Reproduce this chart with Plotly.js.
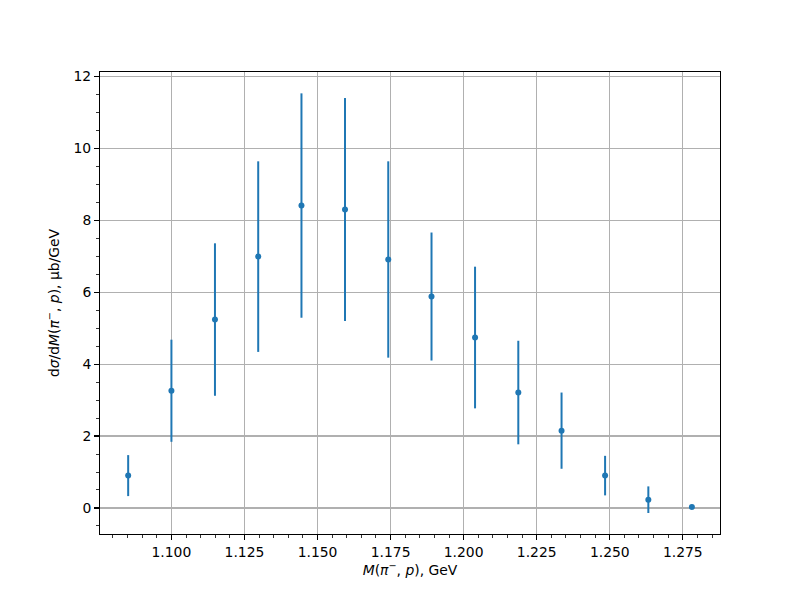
<!DOCTYPE html>
<html>
<head>
<meta charset="utf-8">
<script src="https://cdn.plot.ly/plotly-3.0.1.min.js"></script>
<style>body{margin:0;padding:0;background:#fff;}#chart{width:800px;height:600px;}</style>
</head>
<body>
<div id="chart"></div>
<script>
const massGeV = [1.0852, 1.1000, 1.1149, 1.1297, 1.1445, 1.1594, 1.1742, 1.1890, 1.2039, 1.2187, 1.2335, 1.2484, 1.2632, 1.2781];
const dsigma = [0.90, 3.26, 5.24, 6.99, 8.41, 8.30, 6.91, 5.88, 4.74, 3.21, 2.15, 0.90, 0.23, 0.03];
const dsigmaErr = [0.57, 1.42, 2.12, 2.65, 3.12, 3.10, 2.73, 1.78, 1.97, 1.44, 1.06, 0.55, 0.37, 0.0];
const xTickVals = [1.100, 1.125, 1.150, 1.175, 1.200, 1.225, 1.250, 1.275];
const yTickVals = [0, 2, 4, 6, 8, 10, 12];

const trace = {
  x: massGeV, y: dsigma, type: 'scatter', mode: 'markers',
  marker: {color: '#1f77b4', size: 6},
  error_y: {type: 'data', array: dsigmaErr, visible: true, color: '#1f77b4', thickness: 2, width: 0},
  hoverinfo: 'x+y'
};
const font = {family: 'DejaVu Sans, sans-serif', size: 13.9, color: '#000'};
const layout = {
  width: 800, height: 600,
  margin: {l: 100, r: 80, t: 72, b: 66},
  paper_bgcolor: '#fff', plot_bgcolor: '#fff',
  showlegend: false,
  font: font,
  xaxis: {
    range: [1.07556, 1.28772],
    tickmode: 'array', tickvals: xTickVals, tickformat: '.3f',
    ticks: 'outside', ticklen: 4.9, tickwidth: 1.1, tickcolor: '#000',
    showline: true, linecolor: '#000', linewidth: 1.1, mirror: true,
    showgrid: true, gridcolor: '#b0b0b0', gridwidth: 1.1,
    zeroline: false,
    tickfont: font,
    minor: {tick0: 1.1, dtick: 0.005, ticks: 'outside', ticklen: 2.8, tickwidth: 0.8, tickcolor: '#000', showgrid: false},
    title: {text: '<i>M</i>(<i>π</i><sup>−</sup>, <i>p</i>), GeV', font: font, standoff: 6}
  },
  yaxis: {
    range: [-0.724, 12.124],
    tickmode: 'array', tickvals: yTickVals,
    ticks: 'outside', ticklen: 4.9, tickwidth: 1.1, tickcolor: '#000',
    showline: true, linecolor: '#000', linewidth: 1.1, mirror: true,
    showgrid: true, gridcolor: '#b0b0b0', gridwidth: 1.1,
    zeroline: false,
    tickfont: font,
    minor: {tick0: 0, dtick: 0.5, ticks: 'outside', ticklen: 2.8, tickwidth: 0.8, tickcolor: '#000', showgrid: false},
    title: {text: 'd<i>σ</i>/d<i>M</i>(<i>π</i><sup>−</sup>, <i>p</i>), μb/GeV', font: font, standoff: 10}
  }
};
Plotly.newPlot('chart', [trace], layout, {displayModeBar: false, staticPlot: true});
</script>
</body>
</html>
